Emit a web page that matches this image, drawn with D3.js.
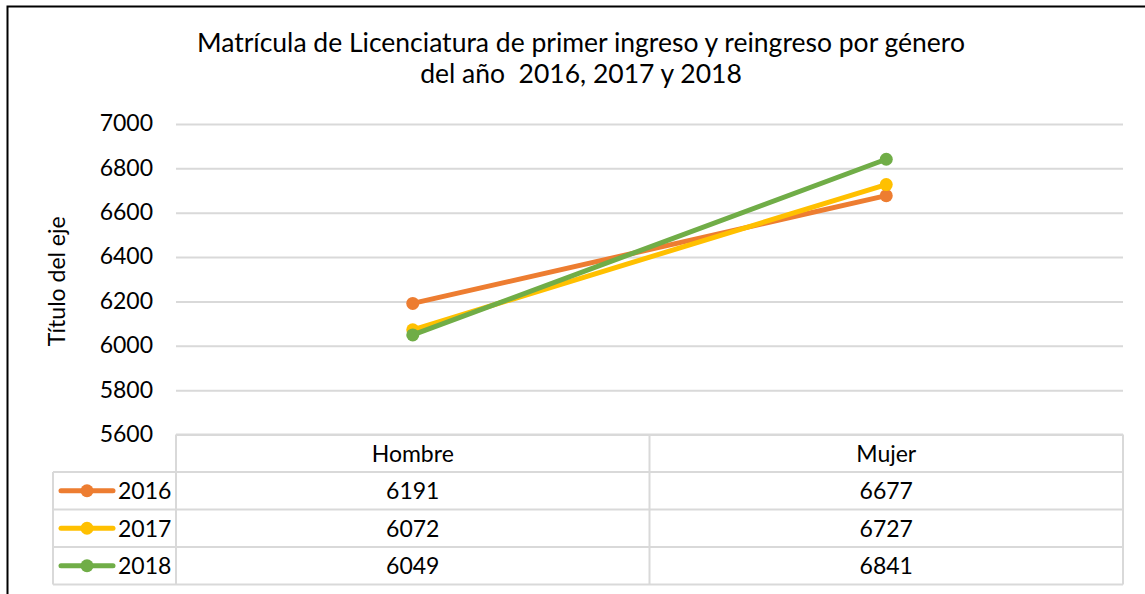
<!DOCTYPE html>
<html>
<head>
<meta charset="utf-8">
<script src="https://cdn.jsdelivr.net/npm/d3@7"></script>
<style>
  body { margin: 0; background: #fff; }
  svg text { font-family: Lato, "Open Sans", sans-serif; fill: #000; }
</style>
</head>
<body>
<svg id="chart" width="1145" height="594"></svg>
<script>
// data
var categories = ["Hombre", "Mujer"];
var years = ["2016", "2017", "2018"];
var values2016 = [6191, 6677];
var values2017 = [6072, 6727];
var values2018 = [6049, 6841];
var yTicks = [5600, 5800, 6000, 6200, 6400, 6600, 6800, 7000];
var titleLines = ["Matrícula de Licenciatura de primer ingreso y reingreso por género", "del año  2016, 2017 y 2018"];
var axisTitle = "Título del eje";
var colors = ["#ED7D31", "#FFC000", "#70AD47"];

var series = years.map(function(yr, i) {
	return { name: yr, values: [values2016, values2017, values2018][i], color: colors[i] };
});

var svg = d3.select("#chart");
var plotLeft = 176, plotRight = 1123, plotTop = 124, plotBottom = 434.5;
var rowH = 37.5, legendLeft = 53;

// outer frame (runs off the right and bottom of the picture)
svg.append("rect")
	.attr("x", 7.5).attr("y", 6.5)
	.attr("width", 1150).attr("height", 600)
	.attr("fill", "none").attr("stroke", "#000").attr("stroke-width", 2);

// title
svg.append("g").selectAll("text")
	.data(titleLines)
	.enter().append("text")
	.attr("x", 581).attr("y", function(d, i) { return 52 + i * 31; })
	.attr("text-anchor", "middle")
	.attr("font-size", 26.5)
	.style("white-space", "pre")
	.text(function(d) { return d; });

var x = d3.scaleBand().domain(categories).range([plotLeft, plotRight]);
var y = d3.scaleLinear().domain([yTicks[0], yTicks[yTicks.length - 1]]).range([plotBottom, plotTop]);

// gridlines
var grid = svg.append("g").attr("transform", "translate(" + plotLeft + ",0)")
	.call(d3.axisLeft(y).tickValues(yTicks).tickSize(-(plotRight - plotLeft)).tickFormat(""));
grid.select(".domain").remove();
grid.selectAll("line").attr("stroke", "#d9d9d9").attr("stroke-width", 2);

// tick labels
var yAxis = svg.append("g").attr("transform", "translate(" + plotLeft + ",0)")
	.call(d3.axisLeft(y).tickValues(yTicks).tickSize(0).tickPadding(23).tickFormat(d3.format("d")));
yAxis.select(".domain").remove();
yAxis.selectAll("text").attr("font-size", 23).attr("font-family", "Lato, sans-serif").attr("dy", "0.3em");

// axis title
svg.append("text")
	.attr("transform", "translate(65," + ((plotTop + plotBottom) / 2 + 2) + ") rotate(-90)")
	.attr("text-anchor", "middle")
	.attr("font-size", 23)
	.text(axisTitle);

// lines + markers
var cx = function(d, i) { return x(categories[i]) + x.bandwidth() / 2; };
var line = d3.line().x(cx).y(function(d) { return y(d); });

var sg = svg.append("g").selectAll("g")
	.data(series)
	.enter().append("g");
sg.append("path")
	.attr("d", function(d) { return line(d.values); })
	.attr("fill", "none")
	.attr("stroke", function(d) { return d.color; })
	.attr("stroke-width", 5)
	.attr("stroke-linecap", "round");
sg.selectAll("circle")
	.data(function(d) { return d.values.map(function(v) { return { v: v, color: d.color }; }); })
	.enter().append("circle")
	.attr("cx", function(d, i) { return cx(d, i); })
	.attr("cy", function(d) { return y(d.v); })
	.attr("r", 6.5)
	.attr("fill", function(d) { return d.color; });

// data table
var table = svg.append("g");
var gridColor = "#d9d9d9";
var tableBottom = plotBottom + rowH * (series.length + 1);

// horizontal rules
table.append("line")
	.attr("x1", plotLeft).attr("x2", plotRight)
	.attr("y1", plotBottom).attr("y2", plotBottom);
table.selectAll(".hrule")
	.data(d3.range(series.length + 1))
	.enter().append("line")
	.attr("x1", legendLeft).attr("x2", plotRight)
	.attr("y1", function(i) { return plotBottom + rowH * (i + 1); })
	.attr("y2", function(i) { return plotBottom + rowH * (i + 1); });
// vertical rules
table.append("line")
	.attr("x1", legendLeft).attr("x2", legendLeft)
	.attr("y1", plotBottom + rowH).attr("y2", tableBottom);
table.selectAll(".vrule")
	.data(categories.concat(["end"]))
	.enter().append("line")
	.attr("x1", function(c, i) { return i < categories.length ? x(c) : plotRight; })
	.attr("x2", function(c, i) { return i < categories.length ? x(c) : plotRight; })
	.attr("y1", plotBottom).attr("y2", tableBottom);
table.selectAll("line").attr("stroke", gridColor).attr("stroke-width", 2);

// header
table.selectAll(".head")
	.data(categories)
	.enter().append("text")
	.attr("x", function(c) { return x(c) + x.bandwidth() / 2; })
	.attr("y", plotBottom + rowH / 2)
	.attr("dy", "0.36em")
	.attr("text-anchor", "middle")
	.attr("font-size", 23)
	.text(function(c) { return c; });

// rows
var rows = table.selectAll(".row")
	.data(series)
	.enter().append("g")
	.attr("transform", function(d, i) { return "translate(0," + (plotBottom + rowH * (i + 1) + rowH / 2) + ")"; });
rows.append("line")
	.attr("x1", 61).attr("x2", 113).attr("y1", 0).attr("y2", 0)
	.attr("stroke", function(d) { return d.color; })
	.attr("stroke-width", 5)
	.attr("stroke-linecap", "round");
rows.append("circle")
	.attr("cx", 87).attr("cy", 0).attr("r", 6.5)
	.attr("fill", function(d) { return d.color; });
rows.append("text")
	.attr("x", 118).attr("dy", "0.36em")
	.attr("font-size", 23)
	.text(function(d) { return d.name; });
rows.selectAll(".val")
	.data(function(d) { return d.values; })
	.enter().append("text")
	.attr("x", function(v, i) { return x(categories[i]) + x.bandwidth() / 2; })
	.attr("dy", "0.36em")
	.attr("text-anchor", "middle")
	.attr("font-size", 23)
	.text(function(v) { return v; });
</script>
</body>
</html>
